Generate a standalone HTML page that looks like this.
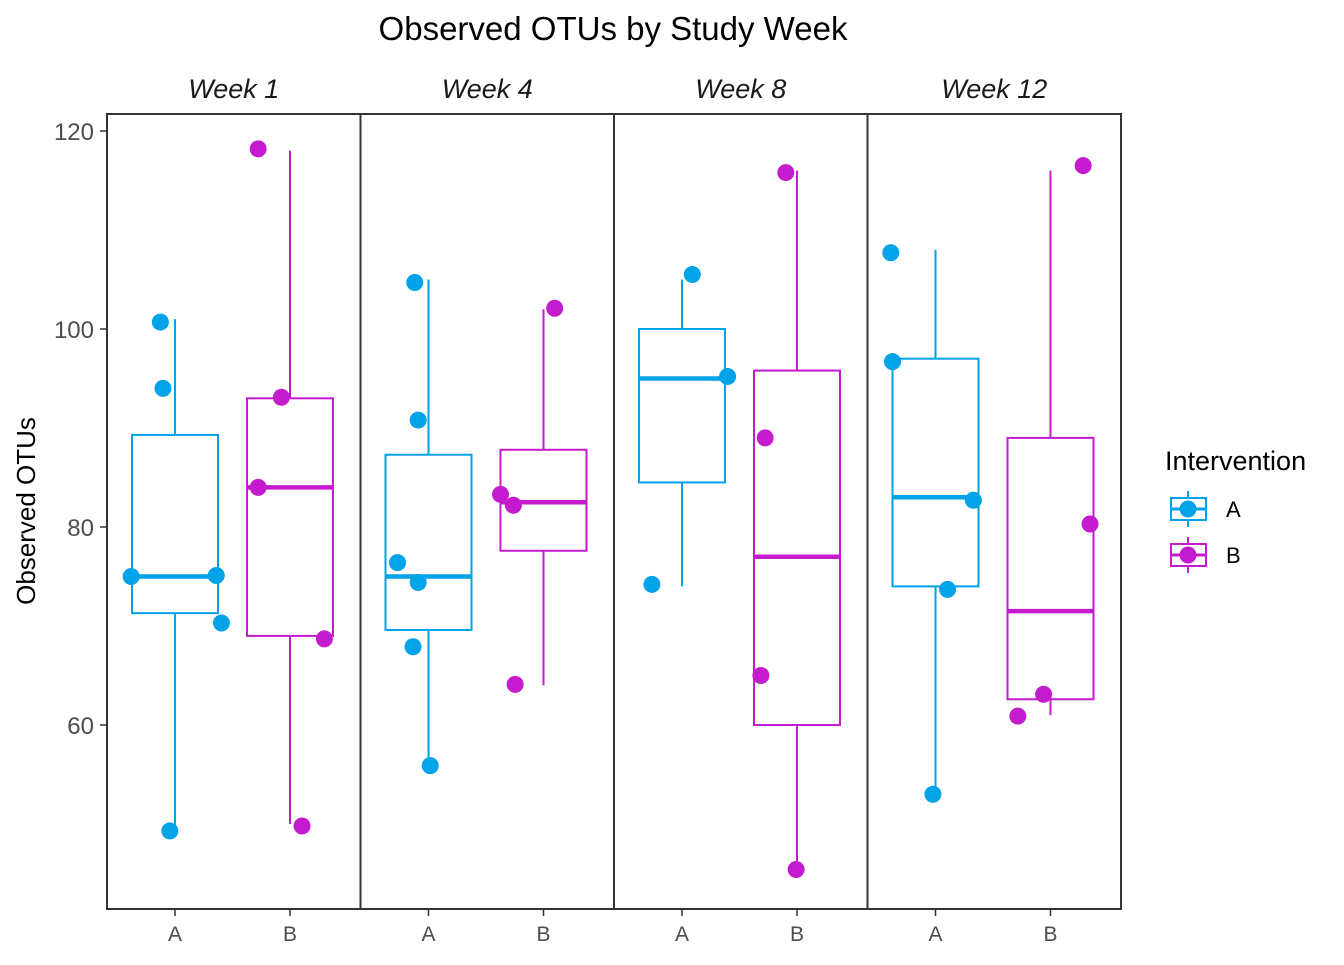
<!DOCTYPE html>
<html><head><meta charset="utf-8"><style>
html,body{margin:0;padding:0;background:#fff}
svg text{font-family:"Liberation Sans",Arial,sans-serif}
</style></head><body>
<svg id="c" width="1344" height="960" xmlns="http://www.w3.org/2000/svg"></svg>
<script>
const weeks=["Week 1","Week 4","Week 8","Week 12"];
const groups=["A","B"];
const yTicks=[60,80,100,120];
// box stats per week per group: [lowerWhisker, q1, median, q3, upperWhisker]
const statsA=[[49.3,71.3,75,89.3,101],[56,69.6,75,87.3,105],[74,84.5,95,100,105],[53,74,83,97,108]];
const statsB=[[50,69,84,93,118],[64,77.6,82.5,87.8,102],[45.5,60,77,95.8,116],[61,62.6,71.5,89,116]];
// observed points per week per group
const ptsA=[[100.7,94,75,75.1,70.3,49.3],[104.7,90.8,76.4,74.4,67.9,55.9],[105.5,95.2,74.2],[107.7,96.7,82.7,73.7,53]];
const ptsB=[[118.2,93.1,84,68.7,49.8],[102.1,83.3,82.2,64.1],[115.8,89,65,45.4],[116.5,80.3,63.1,60.9]];
// horizontal jitter (fraction of box width)
const jitA=[[-0.17,-0.14,-0.51,0.48,0.54,-0.06],[-0.16,-0.12,-0.36,-0.12,-0.18,0.02],[0.12,0.53,-0.35],[-0.52,-0.5,0.44,0.14,-0.03]];
const jitB=[[-0.37,-0.10,-0.37,0.40,0.14],[0.13,-0.50,-0.35,-0.33],[-0.13,-0.37,-0.42,-0.01],[0.38,0.46,-0.08,-0.38]];

const svg=document.getElementById('c');
const NS='http://www.w3.org/2000/svg';
const colA='#00A2E8', colB='#C51BCE';
const L=107,R=1121,T=114,B=909;
const pw=(R-L)/weeks.length;
const boxW=86;
function y(v){return 131+(120-v)*9.9;}
function x(w,g){return L+w*pw+(g===0?68:183);}
function mk(tag,attrs,parent){const e=document.createElementNS(NS,tag);for(const k in attrs)e.setAttribute(k,attrs[k]);(parent||svg).appendChild(e);return e;}

let t=mk('text',{x:613,y:40,'font-size':33,'text-anchor':'middle',fill:'#000'});


t.textContent='Observed OTUs by Study Week';

t=mk('text',{x:0,y:0,'font-size':26,'text-anchor':'middle',fill:'#000',transform:'translate(35,511) rotate(-90)'});


t.textContent='Observed OTUs';

yTicks.forEach(v=>{
  const l=mk('line',{x1:100,x2:107,y1:y(v),y2:y(v),stroke:'#333','stroke-width':1.5});
  
  
  const tx=mk('text',{x:94,y:y(v)+9,'font-size':24,'text-anchor':'end',fill:'#4d4d4d'});
  
  
  tx.textContent=v;
});

weeks.forEach((w,i)=>{
  const g=mk('g',{});
  
  
  const st=mk('text',{x:L+i*pw+pw/2,y:98,'font-size':27,'font-style':'italic','text-anchor':'middle',fill:'#1a1a1a'},g);
  
  
  st.textContent=w;
  const stats=[statsA[i],statsB[i]], pts=[ptsA[i],ptsB[i]], jit=[jitA[i],jitB[i]];
  [0,1].forEach(gi=>{
    const c=gi?colB:colA, cx=x(i,gi), s=stats[gi];
    const bg=mk('g',{},g);
    
    
    mk('line',{x1:cx,x2:cx,y1:y(s[4]),y2:y(s[3]),stroke:c,'stroke-width':2},bg);
    mk('line',{x1:cx,x2:cx,y1:y(s[1]),y2:y(s[0]),stroke:c,'stroke-width':2},bg);
    mk('rect',{x:cx-boxW/2,y:y(s[3]),width:boxW,height:y(s[1])-y(s[3]),fill:'none',stroke:c,'stroke-width':2},bg);
    mk('line',{x1:cx-boxW/2,x2:cx+boxW/2,y1:y(s[2]),y2:y(s[2]),stroke:c,'stroke-width':4.5},bg);
    pts[gi].forEach((v,k)=>{
      const p=mk('circle',{cx:cx+jit[gi][k]*boxW,cy:y(v),r:8.5,fill:c},g);
      
      
    });
    const xl=mk('text',{x:cx,y:941,'font-size':21,'text-anchor':'middle',fill:'#4d4d4d'},g);
    
    
    xl.textContent=groups[gi];
    mk('line',{x1:cx,x2:cx,y1:909,y2:916,stroke:'#333','stroke-width':1.5},g);
  });
  const pr=mk('rect',{x:L+i*pw,y:T,width:pw,height:B-T,fill:'none',stroke:'#333','stroke-width':2},g);
  
  
});

const lg=mk('g',{});


let lt=mk('text',{x:1165,y:470,'font-size':27,fill:'#000'},lg);


lt.textContent='Intervention';
groups.forEach((gn,i)=>{
  const c=i?colB:colA, cy=509+i*46;
  const e=mk('g',{},lg);
  
  
  mk('line',{x1:1188,x2:1188,y1:cy-18,y2:cy+18,stroke:c,'stroke-width':2},e);
  mk('rect',{x:1171,y:cy-11,width:35,height:22,fill:'#fff',stroke:c,'stroke-width':2},e);
  mk('line',{x1:1171,x2:1206,y1:cy,y2:cy,stroke:c,'stroke-width':3},e);
  mk('circle',{cx:1188,cy:cy,r:8.5,fill:c},e);
  const tx=mk('text',{x:1226,y:cy+8,'font-size':22,fill:'#000'},e);
  tx.textContent=gn;
});
</script>
</body></html>
